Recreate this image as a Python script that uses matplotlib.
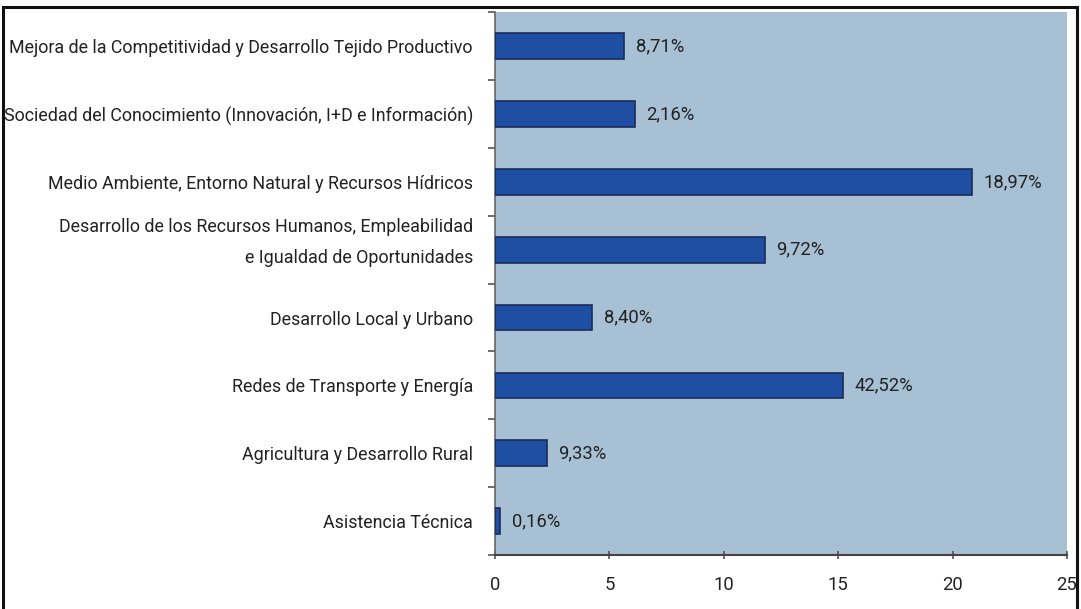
import matplotlib
matplotlib.use("Agg")
import matplotlib.pyplot as plt
import matplotlib.transforms as mtransforms
from matplotlib.patches import Rectangle
from matplotlib.textpath import TextPath
from matplotlib.font_manager import FontProperties
import numpy as np

categorias = [
    "Mejora de la Competitividad y Desarrollo Tejido Productivo",
    "Sociedad del Conocimiento (Innovación, I+D e Información)",
    "Medio Ambiente, Entorno Natural y Recursos Hídricos",
    "Desarrollo de los Recursos Humanos, Empleabilidad\ne Igualdad de Oportunidades",
    "Desarrollo Local y Urbano",
    "Redes de Transporte y Energía",
    "Agricultura y Desarrollo Rural",
    "Asistencia Técnica",
]
# bar lengths as drawn on the axis (they don't follow the printed percentages)
longitudes = [5.65, 6.1, 20.85, 11.8, 4.25, 15.2, 2.25, 0.22]
etiquetas = ["8,71%", "2,16%", "18,97%", "9,72%", "8,40%", "42,52%", "9,33%", "0,16%"]
xticks = [0, 5, 10, 15, 20, 25]

familia = ["Roboto", "DejaVu Sans"]
plt.rcParams["font.family"] = familia

# pick a size so the longest label spans about 462 px, like the condensed face of the original
ancho = TextPath((0, 0), categorias[0], size=100, prop=FontProperties(family=familia)).get_extents().width
fs = min(462 * 72 / ancho, 13)

fig = plt.figure(figsize=(10.81, 6.09), dpi=100)
ax = fig.add_axes([0.458, 0.0887, 0.529, 0.891])

y = np.arange(len(categorias))
ax.barh(y, longitudes, height=0.38, color="#1e4fa3", edgecolor="#1b2d5e", linewidth=1.2, zorder=3)

for yi, v, t in zip(y, longitudes, etiquetas):
    ax.text(v + 0.5, yi, t, va="center", ha="left", fontsize=fs + 0.5, color="#222222", zorder=4)

ax.set_facecolor("#a8c0d4")
ax.set_xlim(0, 25)
ax.set_ylim(len(categorias) - 0.5, -0.5)
ax.set_xticks(xticks)
ax.set_xticklabels([str(v) for v in xticks], fontsize=fs + 0.5, color="#222222")
ax.set_yticks(y)
ax.set_yticklabels(categorias, fontsize=fs, color="#222222", multialignment="right")
ax.set_yticks(np.arange(-0.5, len(categorias), 1.0), minor=True)
ax.tick_params(axis="y", which="major", length=0, pad=16)
ax.tick_params(axis="y", which="minor", length=5, width=1.2, color="#555555", direction="out")
ax.tick_params(axis="x", length=6, width=1.2, color="#555555", direction="inout", pad=12)

for s in ["top", "right"]:
    ax.spines[s].set_visible(False)
ax.spines["left"].set_color("#666666")
ax.spines["bottom"].set_color("#444444")
ax.spines["left"].set_linewidth(1.2)
ax.spines["bottom"].set_linewidth(1.5)

# the two-line label sits with its last line on the bar
lbl = ax.get_yticklabels()[3]
lbl.set_linespacing(1.95)
lbl.set_transform(lbl.get_transform() + mtransforms.ScaledTranslation(0, 16 / 100, fig.dpi_scale_trans))

# outer frame
fig.patches.append(Rectangle((3 / 1081, -0.05), 1074 / 1081, 1.05 - 7 / 609, transform=fig.transFigure,
                             fill=False, edgecolor="#111111", linewidth=2.2))

fig.savefig("out.png", dpi=100)
